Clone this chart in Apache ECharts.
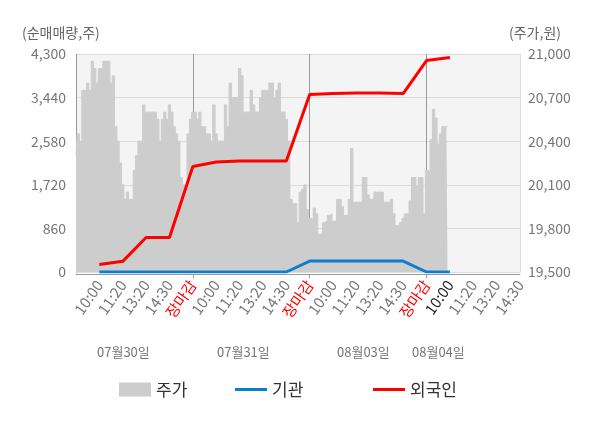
<!DOCTYPE html>
<html>
<head>
<meta charset="utf-8">
<script src="https://cdn.jsdelivr.net/npm/echarts@6/dist/echarts.min.js"></script>
<style>
  html, body { margin: 0; padding: 0; background: #fff; }
  #chart { width: 600px; height: 428px; }
</style>
</head>
<body>
<div id="chart"></div>
<script>
// 날짜, 구간 라벨
var days = ['07월30일', '07월31일', '08월03일', '08월04일'];
var slotLabels = ['10:00', '11:20', '13:20', '14:30', '장마감'];
var STEPS = 10;      // 구간당 세부 칸 수
var SLOTS = 19;      // 라벨 구간 수 (마지막 날은 14:30까지)
var nowSlot = 16;    // 08/04 10:00 (현재)

// 주가 (원) - 세부 칸별
var priceData = [
  // 07/30
  20300, 20450, 20400, 20750, 20750, 20800, 20750, 20950, 20900, 20800,
  20900, 20900, 20950, 20950, 20950, 20800, 20850, 20500, 20400, 20250,
  20100, 20000, 20050, 20000, 20000, 20200, 20300, 20400, 20400, 20650,
  20600, 20600, 20600, 20600, 20600, 20550, 20400, 20550, 20600, 20550,
  20650, 20600, 20500, 20450, 20400, 20150, 20100, 20050, 20450, 20550,
  // 07/31
  20600, 20600, 20550, 20600, 20500, 20500, 20450, 20450, 20400, 20650,
  20450, 20400, 20400, 20400, 20650, 20500, 20800, 20700, 20700, 20700,
  20900, 20850, 20600, 20600, 20600, 20750, 20650, 20600, 20600, 20700,
  20750, 20750, 20750, 20800, 20800, 20700, 20750, 20800, 20600, 20600,
  20550, 20400, 20000, 19970, 19970, 19840, 20050, 20070, 20100, 19930,
  // 08/03
  19870, 19860, 19940, 19900, 19760, 19760, 19840, 19850, 19890, 19900,
  19850, 19850, 20000, 20000, 19950, 19890, 19890, 20000, 20350, 19980,
  19980, 19980, 19980, 20150, 20150, 20030, 20000, 20000, 20050, 20050,
  20050, 20050, 19980, 19980, 19980, 20000, 19900, 19820, 19820, 19840,
  19870, 19900, 19900, 19990, 20150, 20150, 20090, 20150, 20150, 19900,
  // 08/04
  20200, 20190, 20410, 20620, 20560, 20380, 20450, 20500, 20500, 20500
];

// 누적 순매매량 (주) - 라벨 구간별 (1번째 = 07/30 10:00)
var instData    = [0, 0, 0, 0, 0, 0, 0, 0, 0, 215, 215, 215, 215, 215, 0, 0];
var foreignData = [150, 210, 680, 680, 2080, 2170, 2190, 2190, 2190, 3500, 3520, 3530, 3530, 3520, 4170, 4230];

var leftTicks = { min: 0, max: 4300, interval: 860 };
var rightTicks = { min: 19500, max: 21000, interval: 300 };

var categories = [];
for (var i = 0; i <= SLOTS * STEPS; i++) categories.push(String(i));

function slotSeries(values) {
  var arr = [];
  for (var i = 0; i <= SLOTS * STEPS; i++) arr.push(null);
  values.forEach(function (v, k) { arr[(k + 1) * STEPS] = v; });
  return arr;
}

var chart = echarts.init(document.getElementById('chart'));
var font = '"Noto Sans CJK KR", "Noto Sans", sans-serif';
var dateX = [125, 245, 365, 440];

var graphics = days.map(function (d, k) {
  return {
    type: 'text', left: dateX[k] - 28, top: 346,
    style: { text: d, fill: '#777', font: '13px ' + font }
  };
});
graphics.push({ type: 'text', left: 22, top: 26, style: { text: '(순매매량,주)', fill: '#666', font: '14px ' + font } });
graphics.push({ type: 'text', left: 509, top: 26, style: { text: '(주가,원)', fill: '#666', font: '14px ' + font } });

function commas(v) { return Number(v).toLocaleString('en-US'); }

var legendBase = {
  top: 376, icon: 'rect', itemWidth: 32,
  textStyle: { fontSize: 17, color: '#333', fontFamily: font }
};

var option = {
  animation: false,
  textStyle: { fontFamily: font },
  graphic: graphics,
  legend: [
    Object.assign({}, legendBase, { left: 114, itemHeight: 14, data: ['주가'] }),
    Object.assign({}, legendBase, { left: 230, itemHeight: 3, data: ['기관'] }),
    Object.assign({}, legendBase, { left: 368, itemHeight: 3, data: ['외국인'] })
  ],
  grid: {
    left: 76, right: 80, top: 54, bottom: 156,
    show: true, backgroundColor: '#f4f4f4', borderWidth: 0
  },
  xAxis: {
    type: 'category',
    data: categories,
    boundaryGap: false,
    offset: 2,
    axisLine: { onZero: false, lineStyle: { color: '#999' } },
    axisTick: {
      show: true, length: 4, lineStyle: { color: '#999' },
      interval: function (idx) { return idx > 0 && idx % (5 * STEPS) === 0; }
    },
    splitLine: {
      show: true, lineStyle: { color: '#999', width: 1 },
      interval: function (idx) { return idx > 0 && idx % (5 * STEPS) === 0; }
    },
    axisLabel: {
      interval: function (idx) { return idx > 0 && idx % STEPS === 0; },
      rotate: 55,
      margin: 8,
      fontSize: 15,
      color: '#777',
      formatter: function (v, idx) {
        var slot = Math.round(idx / STEPS);
        var t = slotLabels[(slot - 1) % 5];
        if (t === '장마감') return '{r|' + t + '}';
        if (slot === nowSlot) return '{k|' + t + '}';
        return t;
      },
      rich: {
        r: { color: '#ff0000', fontSize: 15, fontFamily: font },
        k: { color: '#222', fontSize: 15, fontFamily: font }
      }
    }
  },
  yAxis: [
    {
      type: 'value',
      min: leftTicks.min, max: leftTicks.max, interval: leftTicks.interval,
      axisLine: { show: true, lineStyle: { color: '#999' } },
      axisTick: { show: false },
      splitLine: { lineStyle: { color: '#dcdcdc' } },
      axisLabel: { color: '#777', fontSize: 14, margin: 10, formatter: commas }
    },
    {
      type: 'value',
      min: rightTicks.min, max: rightTicks.max, interval: rightTicks.interval,
      axisLine: { show: true, lineStyle: { color: '#ddd' } },
      axisTick: { show: false },
      splitLine: { show: false },
      axisLabel: { color: '#777', fontSize: 14, margin: 8, formatter: commas }
    }
  ],
  series: [
    {
      name: '주가',
      type: 'line',
      yAxisIndex: 1,
      data: priceData,
      step: 'middle',
      showSymbol: false,
      itemStyle: { color: '#cdcdcd' },
      lineStyle: { color: '#cdcdcd', width: 1 },
      areaStyle: { color: '#cdcdcd', opacity: 1, origin: 'start' },
      z: 1
    },
    {
      name: '기관',
      type: 'line',
      yAxisIndex: 0,
      data: slotSeries(instData),
      connectNulls: true,
      showSymbol: false,
      itemStyle: { color: '#0a7fd2' },
      lineStyle: { color: '#0a7fd2', width: 3 },
      z: 3
    },
    {
      name: '외국인',
      type: 'line',
      yAxisIndex: 0,
      data: slotSeries(foreignData),
      connectNulls: true,
      showSymbol: false,
      itemStyle: { color: '#ff0000' },
      lineStyle: { color: '#ff0000', width: 3 },
      z: 4
    }
  ]
};

chart.setOption(option);
</script>
</body>
</html>
